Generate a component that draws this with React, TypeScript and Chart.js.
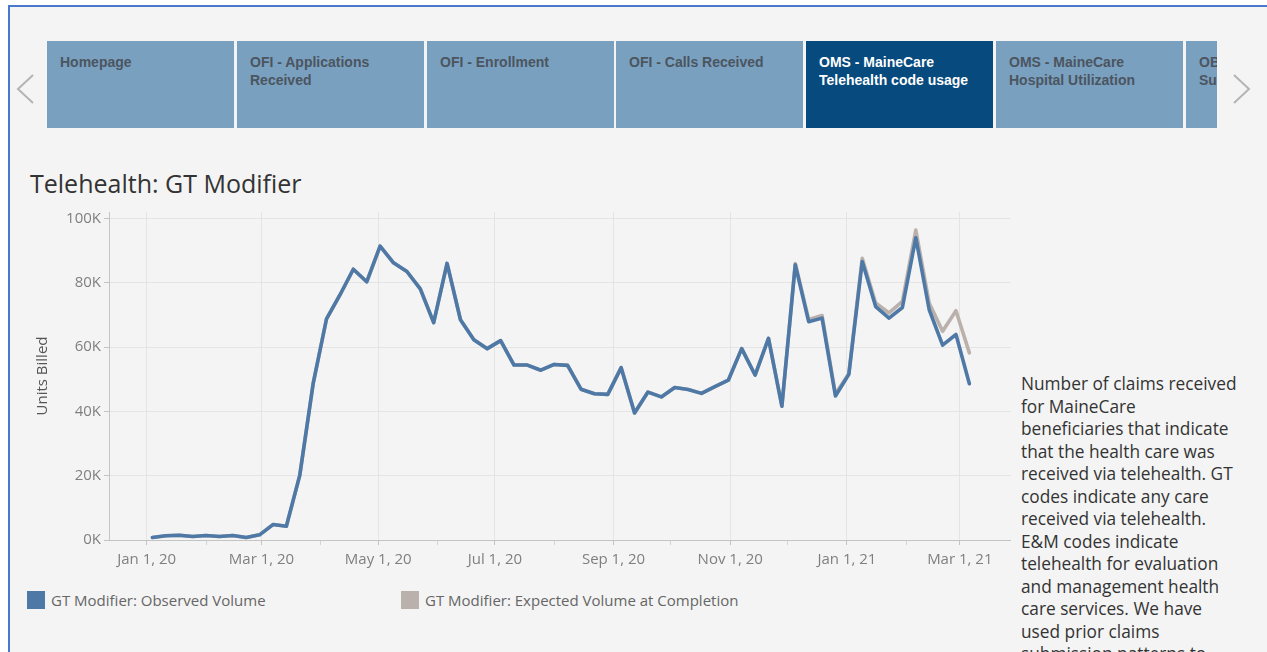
import React, { useEffect, useRef } from "react";
import { Chart, registerables } from "chart.js";

Chart.register(...registerables);

// ---------- DATA ----------
const weekEnding = [
  "2020-01-04", "2020-01-11", "2020-01-18", "2020-01-25", "2020-02-01", "2020-02-08", "2020-02-15", "2020-02-22",
  "2020-02-29", "2020-03-07", "2020-03-14", "2020-03-21", "2020-03-28", "2020-04-04", "2020-04-11", "2020-04-18",
  "2020-04-25", "2020-05-02", "2020-05-09", "2020-05-16", "2020-05-23", "2020-05-30", "2020-06-06", "2020-06-13",
  "2020-06-20", "2020-06-27", "2020-07-04", "2020-07-11", "2020-07-18", "2020-07-25", "2020-08-01", "2020-08-08",
  "2020-08-15", "2020-08-22", "2020-08-29", "2020-09-05", "2020-09-12", "2020-09-19", "2020-09-26", "2020-10-03",
  "2020-10-10", "2020-10-17", "2020-10-24", "2020-10-31", "2020-11-07", "2020-11-14", "2020-11-21", "2020-11-28",
  "2020-12-05", "2020-12-12", "2020-12-19", "2020-12-26", "2021-01-02", "2021-01-09", "2021-01-16", "2021-01-23",
  "2021-01-30", "2021-02-06", "2021-02-13", "2021-02-20", "2021-02-27", "2021-03-06",
];

// Units billed (thousands)
const observedK = [
  0.8, 1.3, 1.5, 1.1, 1.4, 1.1, 1.4, 0.8, 1.6, 4.8, 4.3, 20.1, 48.6, 68.8, 76.2, 84.2,
  80.3, 91.4, 86.2, 83.5, 78.1, 67.6, 86.0, 68.5, 62.3, 59.5, 62.0, 54.4, 54.4, 52.8, 54.6, 54.3,
  46.9, 45.5, 45.3, 53.6, 39.5, 46.0, 44.5, 47.4, 46.8, 45.6, 47.7, 49.7, 59.5, 51.3, 62.7, 41.6,
  85.6, 67.9, 69.0, 44.8, 51.5, 86.6, 72.6, 69.0, 72.3, 94.0, 71.6, 60.6, 63.9, 48.6,
];

const expectedK = [
  0.8, 1.3, 1.5, 1.1, 1.4, 1.1, 1.4, 0.8, 1.6, 4.8, 4.3, 20.1, 48.6, 68.8, 76.2, 84.2,
  80.3, 91.4, 86.2, 83.5, 78.1, 67.6, 86.0, 68.5, 62.3, 59.5, 62.0, 54.4, 54.4, 52.8, 54.6, 54.3,
  46.9, 45.5, 45.3, 53.6, 39.5, 46.0, 44.5, 47.4, 46.8, 45.6, 47.7, 49.7, 59.5, 51.3, 62.7, 41.6,
  86.0, 68.6, 69.8, 45.4, 51.8, 87.6, 73.7, 70.6, 74.2, 96.4, 73.7, 64.9, 71.3, 58.2,
];

const yTicksK = [0, 20, 40, 60, 80, 100];

const xMajorDates = ["2020-01-01", "2020-03-01", "2020-05-01", "2020-07-01", "2020-09-01", "2020-11-01", "2021-01-01", "2021-03-01"];
const xMajorLabels = ["Jan 1, 20", "Mar 1, 20", "May 1, 20", "Jul 1, 20", "Sep 1, 20", "Nov 1, 20", "Jan 1, 21", "Mar 1, 21"];
const xMinorDates = ["2020-02-01", "2020-04-01", "2020-06-01", "2020-08-01", "2020-10-01", "2020-12-01", "2021-02-01"];
const xRangeDates = ["2019-12-12", "2021-03-28"];

const tabs = [
  "Homepage",
  "OFI - Applications\nReceived",
  "OFI - Enrollment",
  "OFI - Calls Received",
  "OMS - MaineCare\nTelehealth code usage",
  "OMS - MaineCare\nHospital Utilization",
  "OBH - Behavioral\nSupport Services",
];
const selectedTab = 4;

const seriesNames = ["GT Modifier: Observed Volume", "GT Modifier: Expected Volume at Completion"];

const descriptionLines = [
  "Number of claims received",
  "for MaineCare",
  "beneficiaries that indicate",
  "that the health care was",
  "received via telehealth. GT",
  "codes indicate any care",
  "received via telehealth.",
  "E&M codes indicate",
  "telehealth for evaluation",
  "and management health",
  "care services. We have",
  "used prior claims",
  "submission patterns to",
];

// ---------- HELPERS ----------
const ORIGIN = Date.UTC(2020, 0, 1);
function dayNum(s: string): number {
  const [y, m, d] = s.split("-").map(Number);
  return (Date.UTC(y, m - 1, d) - ORIGIN) / 86400000;
}

const BLUE = "#4e79a7";
const GRAY = "#bab0ac";
const AXIS_FONT = "'Open Sans', sans-serif";

function ChartView() {
  const ref = useRef<HTMLCanvasElement | null>(null);

  useEffect(() => {
    if (!ref.current) return;
    const majors = xMajorDates.map(dayNum);
    const minors = xMinorDates.map(dayNum);
    const allTicks = [...majors, ...minors].sort((a, b) => a - b);
    const labelFor = (v: number) => {
      const i = majors.indexOf(v);
      return i >= 0 ? xMajorLabels[i] : "";
    };

    const chart = new Chart(ref.current, {
      type: "line",
      data: {
        datasets: [
          {
            label: seriesNames[0],
            data: weekEnding.map((d, i) => ({ x: dayNum(d), y: observedK[i] * 1000 })),
            borderColor: BLUE,
            backgroundColor: BLUE,
            borderWidth: 3.6,
            pointRadius: 0,
            tension: 0,
            borderJoinStyle: "round",
            borderCapStyle: "round",
          },
          {
            label: seriesNames[1],
            data: weekEnding.map((d, i) => ({ x: dayNum(d), y: expectedK[i] * 1000 })),
            borderColor: GRAY,
            backgroundColor: GRAY,
            borderWidth: 3.6,
            pointRadius: 0,
            tension: 0,
            borderJoinStyle: "round",
            borderCapStyle: "round",
          },
        ],
      },
      options: {
        animation: false,
        responsive: false,
        devicePixelRatio: 1,
        layout: { padding: { top: 11, right: 4.3, left: 0, bottom: 0 } },
        plugins: { legend: { display: false }, tooltip: { enabled: false } },
        scales: {
          x: {
            type: "linear",
            min: dayNum(xRangeDates[0]) + 0.3,
            max: dayNum(xRangeDates[1]) - 0.4,
            afterBuildTicks: (scale: any) => {
              scale.ticks = allTicks.map((v) => ({ value: v }));
            },
            afterFit: (scale: any) => {
              scale.height = 40;
            },
            ticks: {
              autoSkip: false,
              maxRotation: 0,
              padding: 6,
              color: "#7f7f7f",
              font: { family: AXIS_FONT, size: 15 },
              callback: (v: any) => labelFor(Number(v)),
            },
            grid: {
              color: (ctx: any) => (majors.includes(ctx.tick?.value) ? "#e4e4e4" : "rgba(0,0,0,0)"),
              tickColor: (ctx: any) => (majors.includes(ctx.tick?.value) ? "#c4c4c4" : "#d4d4d4"),
              tickLength: 5,
              lineWidth: 1,
            },
            border: { display: true, color: "#c4c4c4", width: 1 },
          },
          y: {
            type: "linear",
            min: 0,
            max: 102000,
            afterBuildTicks: (scale: any) => {
              scale.ticks = yTicksK.map((v) => ({ value: v * 1000 }));
            },
            afterFit: (scale: any) => {
              scale.width = 109;
            },
            ticks: {
              padding: 3,
              color: "#7f7f7f",
              font: { family: AXIS_FONT, size: 15 },
              callback: (v: any) => `${Math.round(Number(v) / 1000)}K`,
            },
            grid: {
              color: "#e4e4e4",
              tickColor: "#c4c4c4",
              tickLength: 5,
              lineWidth: 1,
            },
            border: { display: true, color: "#c4c4c4", width: 1 },
            title: {
              display: true,
              text: "Units Billed",
              color: "#555555",
              font: { family: AXIS_FONT, size: 15 },
              padding: { top: 34, bottom: 0 },
            },
          },
        },
      },
    } as any);

    return () => chart.destroy();
  }, []);

  return (
    <canvas
      ref={ref}
      width={1015}
      height={380}
      style={{ position: "absolute", left: 0, top: 200, width: 1015, height: 380 }}
    />
  );
}

const tabLefts = [47, 237, 427, 616, 806, 996, 1186];

export default function App() {
  return (
    <div
      style={{
        position: "absolute",
        left: 0,
        top: 0,
        width: 1267,
        height: 652,
        overflow: "hidden",
        background: "#ffffff",
      }}
    >
      <div
        style={{
          position: "absolute",
          left: 8,
          top: 5,
          width: 1300,
          height: 700,
          background: "#f4f4f4",
          borderTop: "2px solid #4a78cc",
          borderLeft: "2px solid #4a78cc",
        }}
      />
      {/* tab strip */}
      <div style={{ position: "absolute", left: 0, top: 0, width: 1217, height: 140, overflow: "hidden" }}>
        {tabs.map((t, i) => (
          <div
            key={t}
            style={{
              position: "absolute",
              left: tabLefts[i],
              top: 41,
              width: 187,
              height: 87,
              boxSizing: "border-box",
              padding: "12px 8px 0 13px",
              background: i === selectedTab ? "#064a7e" : "#7aa0bf",
              color: i === selectedTab ? "#ffffff" : "#4b5560",
              fontFamily: "'Liberation Sans', Arial, sans-serif",
              fontWeight: "bold",
              fontSize: 14,
              lineHeight: "18px",
              whiteSpace: "pre",
              overflow: "hidden",
            }}
          >
            {t}
          </div>
        ))}
      </div>
      {/* arrows */}
      <svg style={{ position: "absolute", left: 0, top: 60, width: 1267, height: 60 }} width={1267} height={60}>
        <polyline points="33,15 18,29 33,43" fill="none" stroke="#b4b4b4" strokeWidth={2} />
        <polyline points="1234,15 1249,29 1234,43" fill="none" stroke="#b4b4b4" strokeWidth={2} />
      </svg>
      {/* title */}
      <div
        style={{
          position: "absolute",
          left: 30,
          top: 166,
          fontFamily: "'Open Sans', sans-serif",
          fontSize: 25,
          lineHeight: "34px",
          color: "#333333",
          whiteSpace: "nowrap",
        }}
      >
        Telehealth: GT Modifier
      </div>
      <ChartView />
      {/* legend */}
      {seriesNames.map((n, i) => (
        <div key={n} style={{ position: "absolute", left: i === 0 ? 27 : 401, top: 591, height: 18, whiteSpace: "nowrap" }}>
          <div
            style={{
              position: "absolute",
              left: 0,
              top: 0,
              width: 18,
              height: 18,
              background: i === 0 ? BLUE : GRAY,
            }}
          />
          <div
            style={{
              position: "absolute",
              left: 24,
              top: -2,
              fontFamily: AXIS_FONT,
              fontSize: 15,
              lineHeight: "22px",
              color: "#666666",
            }}
          >
            {n}
          </div>
        </div>
      ))}
      {/* description */}
      <div
        style={{
          position: "absolute",
          left: 1021,
          top: 373,
          fontFamily: "'Open Sans', sans-serif",
          fontSize: 17.3,
          lineHeight: "22.5px",
          color: "#333333",
          whiteSpace: "nowrap",
        }}
      >
        {descriptionLines.map((l) => (
          <div key={l}>{l}</div>
        ))}
      </div>
    </div>
  );
}
